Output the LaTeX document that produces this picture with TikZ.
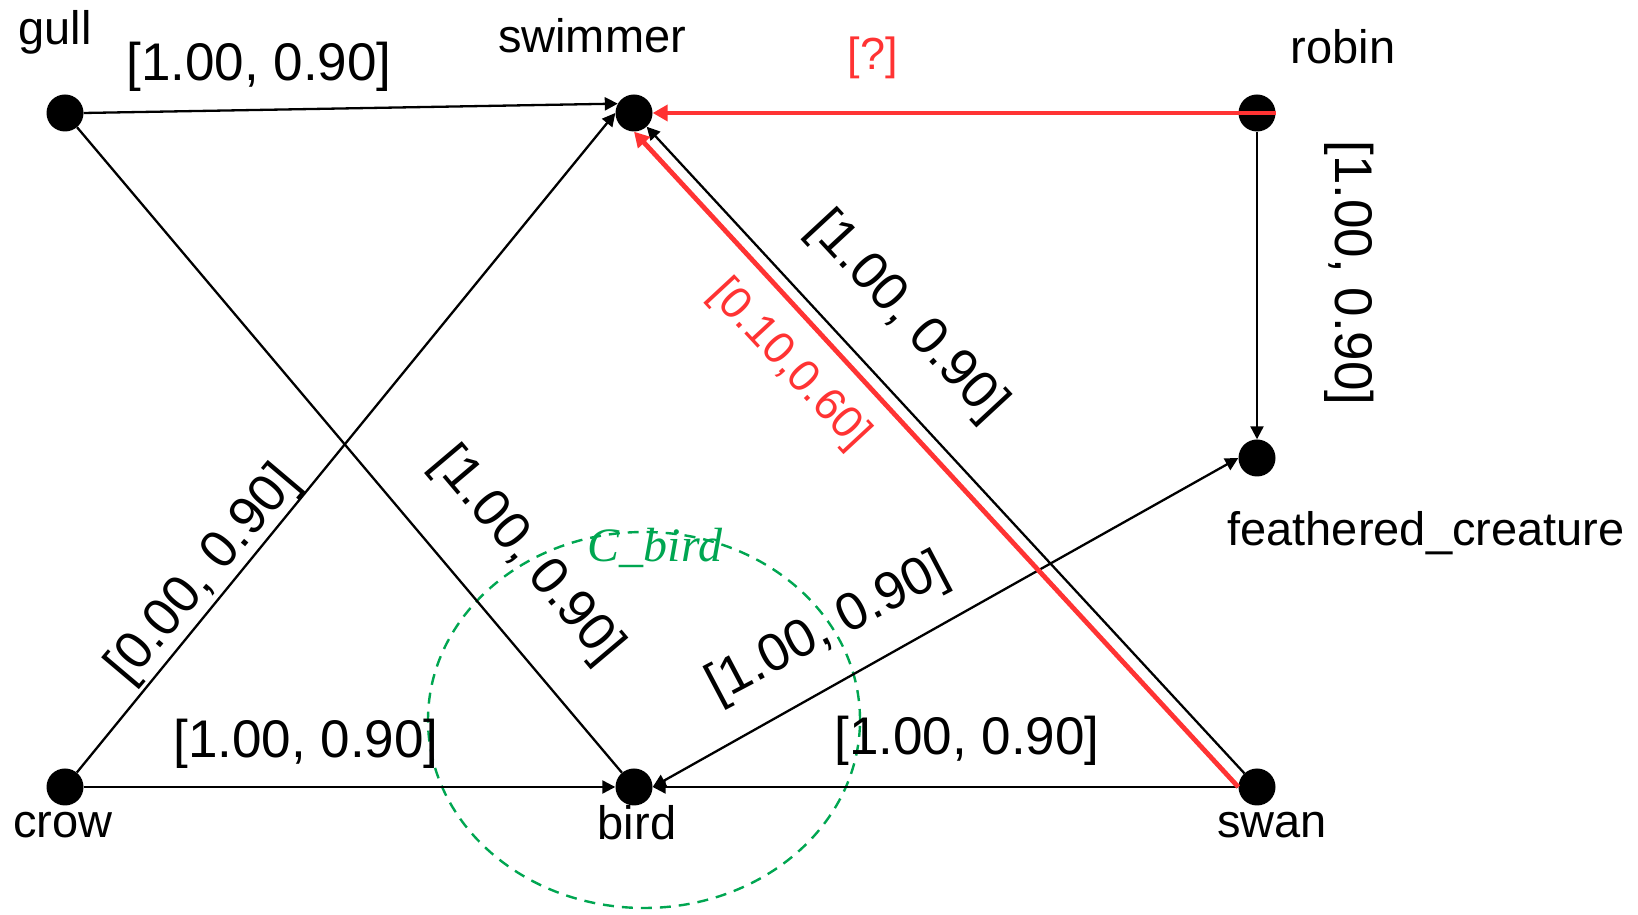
\documentclass[tikz,border=0pt]{standalone}
\usepackage{fontspec}
\setmainfont{Liberation Sans}
\newfontfamily\clusterfont{Liberation Serif}
\usepackage{xcolor}
\usetikzlibrary{arrows.meta}
\definecolor{qred}{RGB}{255,51,51}
\definecolor{cgreen}{RGB}{0,166,81}

\begin{document}
\begin{tikzpicture}[x=1pt, y=1pt, arrow/.style={-{Triangle[length=13pt,width=13pt]}, line width=2.3pt}, redarrow/.style={-{Triangle[length=15pt,width=16pt]}, line width=4.8pt, draw=qred}]
\tikzstyle{dot} = [circle, fill=black, inner sep=0pt, minimum size=37pt]
\tikzstyle{conceptname} = [inner sep=0pt, font=\fontsize{47}{56}\selectfont]
\tikzstyle{weight} = [inner sep=0pt, font=\fontsize{53}{63}\selectfont]
\tikzstyle{redweight} = [inner sep=0pt, text=qred, font=\fontsize{45}{54}\selectfont]
\tikzstyle{clustername} = [inner sep=0pt, text=cgreen, font=\clusterfont\itshape\fontsize{48}{58}\selectfont]
\useasboundingbox (0,0) rectangle (1638,915);
% cluster
\draw[cgreen, line width=2.4pt, dash pattern=on 11pt off 8pt] (644,195) ellipse [x radius=216, y radius=188];
\node[clustername] (cbird) at (655,367) {C\_bird};
% concepts
\node[dot] (gull) at (65,802) {};
\node[dot] (swimmer) at (634,802) {};
\node[dot] (robin) at (1257,802) {};
\node[dot] (feathered) at (1257,457) {};
\node[dot] (crow) at (65,128) {};
\node[dot] (bird) at (634,128) {};
\node[dot] (swan) at (1257,128) {};
\node[conceptname] (gull-l) at (55,883) {gull};
\node[conceptname] (swimmer-l) at (592,879) {swimmer};
\node[conceptname] (robin-l) at (1343,868) {robin};
\node[conceptname] (feathered-l) at (1426,382) {feathered\_creature};
\node[conceptname] (crow-l) at (63,90) {crow};
\node[conceptname] (bird-l) at (637,92) {bird};
\node[conceptname] (swan-l) at (1272,90) {swan};
% links
\draw[arrow] (gull.east) -- (swimmer.150);
\draw[arrow] (crow) -- (swimmer.west);
\draw[arrow] (swan) -- (swimmer);
\draw[line width=2.3pt] (gull) -- (bird);
\draw[arrow] (crow) -- (bird);
\draw[arrow] (swan) -- (bird);
\draw[arrow, {Triangle[length=13pt,width=13pt]}-{Triangle[length=13pt,width=13pt]}] (bird.east) -- (feathered.west);
\draw[arrow] (robin) -- (feathered);
\draw[redarrow] (robin.east) -- (swimmer.east);
\draw[redarrow] (swan.west) -- (swimmer.south);
% truth values
\node[weight] (w1) at (259,848) {[1.00, 0.90]};
\node[weight, rotate=49.8] (w2) at (204,340) {[0.00, 0.90]};
\node[weight, rotate=-47.2] (w3) at (907,598) {[1.00, 0.90]};
\node[weight, rotate=-49.8] (w4) at (527,359) {[1.00, 0.90]};
\node[weight] (w5) at (306,171) {[1.00, 0.90]};
\node[weight] (w6) at (967,174) {[1.00, 0.90]};
\node[weight, rotate=27.8] (w7) at (828,286) {[1.00, 0.90]};
\node[weight, rotate=-90] (w8) at (1349,642) {[1.00, 0.90]};
\node[redweight] (q1) at (873,857) {[?]};
\node[redweight, rotate=-47.2] (q2) at (789,550) {[0.10,0.60]};
\end{tikzpicture}
\end{document}
